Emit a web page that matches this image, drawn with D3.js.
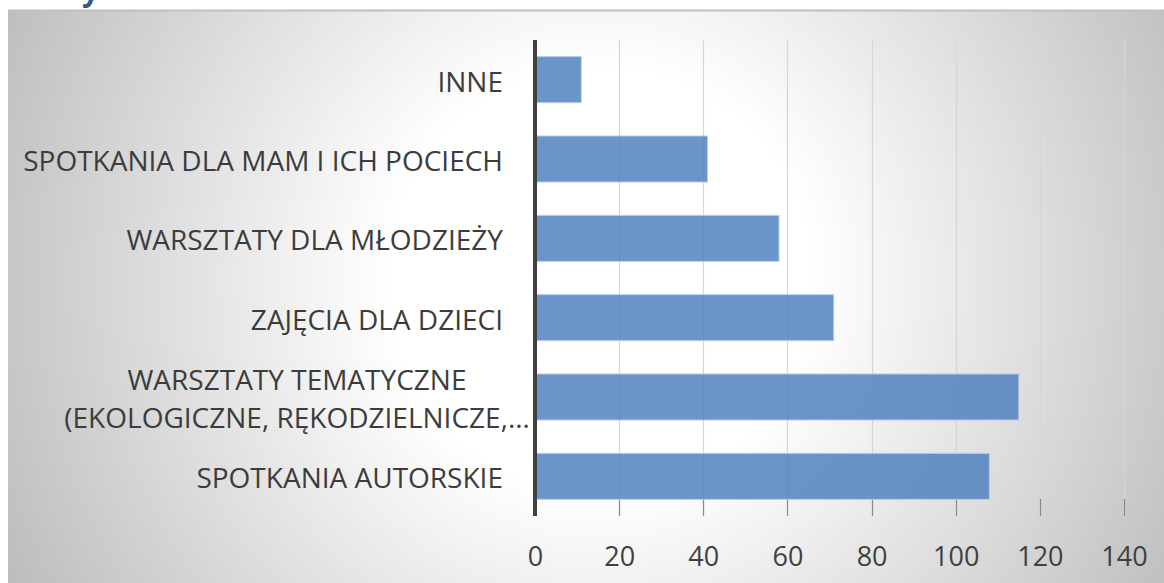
<!DOCTYPE html>
<html>
<head>
<meta charset="utf-8">
<script src="https://cdn.jsdelivr.net/npm/d3@7"></script>
<style>
  html, body { margin: 0; padding: 0; background: #fff; }
  svg { display: block; font-family: 'Open Sans', sans-serif; }
</style>
</head>
<body>
<div id="chart"></div>
<script>
// categories, top to bottom
const categories = [
  'INNE',
  'SPOTKANIA DLA MAM I ICH POCIECH',
  'WARSZTATY DLA MŁODZIEŻY',
  'ZAJĘCIA DLA DZIECI',
  'WARSZTATY TEMATYCZNE (EKOLOGICZNE, RĘKODZIELNICZE,…',
  'SPOTKANIA AUTORSKIE',
];
// wrapped lines as they appear on the axis
const categoryLines = [
  ['INNE'],
  ['SPOTKANIA DLA MAM I ICH POCIECH'],
  ['WARSZTATY DLA MŁODZIEŻY'],
  ['ZAJĘCIA DLA DZIECI'],
  ['WARSZTATY TEMATYCZNE', '(EKOLOGICZNE, RĘKODZIELNICZE,…'],
  ['SPOTKANIA AUTORSKIE'],
];
const values = [11, 41, 58, 71, 115, 108];
const xTicks = [0, 20, 40, 60, 80, 100, 120, 140];

const width = 1164;
const height = 583;
const margins = { top: 40, right: 40, bottom: 67, left: 535 };

const svg = d3.select('#chart')
  .append('svg')
    .attr('width', width)
    .attr('height', height);

// background gradient of the chart area
const grad = svg.append('defs')
  .append('radialGradient')
    .attr('id', 'bg')
    .attr('gradientUnits', 'userSpaceOnUse')
    .attr('cx', 600)
    .attr('cy', 280)
    .attr('r', 660);
grad.append('stop').attr('offset', '0%').attr('stop-color', '#ffffff');
grad.append('stop').attr('offset', '32%').attr('stop-color', '#ffffff');
grad.append('stop').attr('offset', '100%').attr('stop-color', '#bdbdbd');

svg.append('rect')
  .attr('x', 8)
  .attr('y', 10)
  .attr('width', width)
  .attr('height', height)
  .attr('fill', 'url(#bg)');

svg.append('line')
  .attr('x1', 8)
  .attr('x2', width)
  .attr('y1', 10.5)
  .attr('y2', 10.5)
  .attr('stroke', '#bfbfbf')
  .attr('stroke-width', 2);

// tail of the cut-off title
svg.append('text')
  .attr('x', 82)
  .attr('y', 1)
  .attr('fill', '#2e5a8c')
  .attr('font-weight', 'bold')
  .attr('font-size', 30)
  .text('y');

const plotBottom = 516;

const x = d3.scaleLinear()
  .domain([0, 140])
  .range([margins.left, 1124]);

const y = d3.scaleBand()
  .domain(categories)
  .range([margins.top, plotBottom])
  .paddingInner(0.42)
  .paddingOuter(0.21);

// gridlines
svg.append('g')
  .selectAll('line')
  .data(xTicks.filter(d => d > 0))
  .enter()
  .append('line')
    .attr('x1', d => Math.round(x(d)) + 0.5)
    .attr('x2', d => Math.round(x(d)) + 0.5)
    .attr('y1', margins.top)
    .attr('y2', plotBottom)
    .attr('stroke', '#d6d6d6')
    .attr('stroke-width', 1.2);

// tick marks at the bottom
svg.append('g')
  .selectAll('line')
  .data(xTicks.filter(d => d > 0))
  .enter()
  .append('line')
    .attr('x1', d => Math.round(x(d)) + 0.5)
    .attr('x2', d => Math.round(x(d)) + 0.5)
    .attr('y1', plotBottom - 17)
    .attr('y2', plotBottom)
    .attr('stroke', '#8c8c8c')
    .attr('stroke-width', 1.2);

// bars
svg.append('g')
  .selectAll('rect')
  .data(values)
  .enter()
  .append('rect')
    .attr('x', x(0))
    .attr('y', (d, i) => y(categories[i]))
    .attr('width', d => x(d) - x(0))
    .attr('height', y.bandwidth())
    .attr('fill', '#4f81bd')
    .attr('fill-opacity', 0.84)
    .attr('stroke', '#b9cde5')
    .attr('stroke-width', 1);

// value axis line at zero
svg.append('line')
  .attr('x1', x(0))
  .attr('x2', x(0))
  .attr('y1', margins.top)
  .attr('y2', plotBottom)
  .attr('stroke', '#404040')
  .attr('stroke-width', 4);

// x tick labels
const axisX = d3.axisBottom(x)
  .tickValues(xTicks)
  .tickSize(0)
  .tickPadding(0);

const gx = svg.append('g')
  .attr('transform', `translate(0, ${plotBottom})`)
  .call(axisX);
gx.select('.domain').remove();
gx.selectAll('.tick text')
  .attr('y', 50)
  .attr('dy', 0)
  .attr('fill', '#404040')
  .style('font-family', "'Open Sans', sans-serif")
  .style('font-size', '27px');

// category labels: single lines right-aligned, wrapped ones centred as a block
const labelSize = 28;
const lineGap = 38;
const labels = svg.append('g')
  .attr('fill', '#3c3c3c')
  .attr('font-size', labelSize);

categoryLines.forEach((lines, i) => {
  const cy = y(categories[i]) + y.bandwidth() / 2;
  const n = lines.length;
  lines.forEach((line, j) => {
    labels.append('text')
      .attr('x', n > 1 ? 297 : 503)
      .attr('y', cy + (j - (n - 1) / 2) * lineGap + 2 + labelSize * 0.36)
      .attr('text-anchor', n > 1 ? 'middle' : 'end')
      .text(line);
  });
});
</script>
</body>
</html>
